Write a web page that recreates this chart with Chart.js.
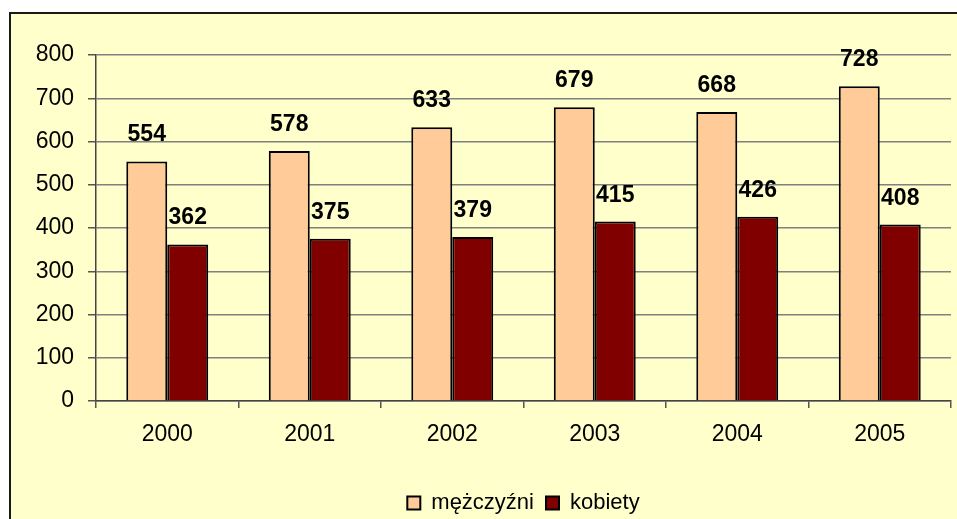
<!DOCTYPE html>
<html>
<head>
<meta charset="utf-8">
<script src="https://cdn.jsdelivr.net/npm/chart.js@4/dist/chart.umd.min.js"></script>
<style>
  html, body { margin: 0; padding: 0; background: #fff; overflow: hidden; width: 957px; height: 519px; }
  #frame { position: absolute; left: 9px; top: 12px; width: 970px; height: 530px;
           background: #FFFFCC; border: 2px solid #1a1a1a; }
  #chart { position: absolute; left: 0; top: 0; }
</style>
</head>
<body>
<div id="frame"></div>
<canvas id="chart" width="957" height="530"></canvas>
<script>
  // dane z wykresu
  var years = ['2000', '2001', '2002', '2003', '2004', '2005'];
  var men = [554, 578, 633, 679, 668, 728];
  var women = [362, 375, 379, 415, 426, 408];
  var seriesNames = ['mężczyźni', 'kobiety'];
  var yTicks = [0, 100, 200, 300, 400, 500, 600, 700, 800];

  var FONT = 'Arial, "Liberation Sans", sans-serif';

  var valueLabels = {
    id: 'valueLabels',
    afterDatasetsDraw: function (chart) {
      var ctx = chart.ctx;
      ctx.save();
      ctx.font = 'bold 23px ' + FONT;
      ctx.fillStyle = '#000';
      ctx.textAlign = 'center';
      ctx.textBaseline = 'alphabetic';
      chart.data.datasets.forEach(function (ds, i) {
        chart.getDatasetMeta(i).data.forEach(function (bar, j) {
          ctx.fillText(String(ds.data[j]), bar.x, bar.y - 20);
        });
      });
      ctx.restore();
    }
  };

  new Chart(document.getElementById('chart'), {
    type: 'bar',
    data: {
      labels: years,
      datasets: [
        { label: seriesNames[0], data: men, backgroundColor: '#FFCC99', borderColor: '#000', borderWidth: 2 },
        { label: seriesNames[1], data: women, backgroundColor: '#800000', borderColor: '#000', borderWidth: 2 }
      ]
    },
    options: {
      responsive: false,
      animation: false,
      layout: { padding: { top: 55, right: 6, left: 0, bottom: 6 } },
      datasets: { bar: { categoryPercentage: 0.575, barPercentage: 1 } },
      plugins: {
        legend: {
          position: 'bottom',
          fullSize: false,
          labels: { font: { family: FONT, size: 22 }, color: '#000', boxWidth: 13, boxHeight: 13, padding: 12 }
        },
        tooltip: { enabled: false }
      },
      scales: {
        x: {
          offset: true,
          afterFit: function (s) { s.height = 79; },
          border: { color: '#444', width: 1.5 },
          grid: {
            drawOnChartArea: true,
            color: function (c) { return c.index === years.length ? '#808080' : 'rgba(0,0,0,0)'; },
            tickColor: '#555',
            tickLength: 7,
            lineWidth: 1.5
          },
          ticks: { font: { family: FONT, size: 23 }, color: '#000', padding: 13 }
        },
        y: {
          min: yTicks[0],
          max: yTicks[yTicks.length - 1],
          afterFit: function (s) { s.width = 96; },
          afterBuildTicks: function (s) { s.ticks = yTicks.map(function (v) { return { value: v }; }); },
          border: { color: '#444', width: 1.5 },
          grid: { color: '#808080', lineWidth: 1.5, tickLength: 8, tickColor: '#555' },
          ticks: { font: { family: FONT, size: 23 }, color: '#000', padding: 14 }
        }
      }
    },
    plugins: [valueLabels]
  });
</script>
</body>
</html>
